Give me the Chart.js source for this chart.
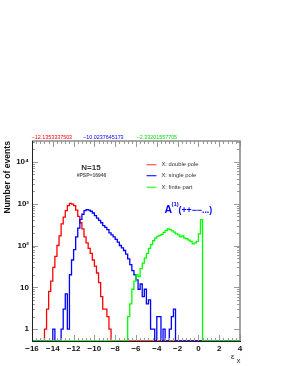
<!DOCTYPE html>
<html>
<head>
<meta charset="utf-8">
<script src="https://cdn.jsdelivr.net/npm/chart.js@4.4.1/dist/chart.umd.min.js"></script>
<style>
  html, body { margin: 0; padding: 0; background: #fff; }
  #wrap { width: 283px; height: 366px; }
</style>
</head>
<body>
<div id="wrap"><canvas id="chart" width="283" height="366"></canvas></div>
<script>
// histogram binning (0.2 wide bins from -16 to 4)
const binStart = -16;
const binWidth = 0.2;

// X: double pole, first bin -14.8
const redStart = -14.8;
const redValues = [1, 3, 8, 14, 30, 55, 100, 170, 330, 480, 680, 900, 1020, 980, 900, 700, 500, 350,
    250, 160, 115, 85, 65, 45, 32, 22, 13, 6, 3, 3, 2, 1];

// X: single pole, first bin -14.0
const blueStart = -14.0;
const blueValues = [1, 0, 0, 0, 1, 3, 7, 1, 20, 45, 80, 160, 260, 420, 560, 680, 720, 700, 660, 600,
    520, 450, 400, 350, 300, 270, 240, 200, 180, 160, 140, 120, 100, 88, 76, 62, 48, 35, 25, 20,
    15, 9, 12, 6, 9, 4, 5, 1, 1, 0, 2, 2, 0, 1, 0, 0, 1, 2, 3];

// X: finite part, first bin -6.8
const greenStart = -6.8;
const greenValues = [2, 4, 9, 14, 20, 18, 28, 38, 50, 65, 85, 105, 130, 150, 165, 175, 185, 205, 230,
    250, 240, 225, 210, 190, 180, 160, 170, 150, 145, 135, 125, 110, 115, 125, 190, 415];

const xTicks = [-16, -14, -12, -10, -8, -6, -4, -2, 0, 2, 4];
const yTicks = [1, 10, 100, 1000, 10000];
const yTickLabels = ['1', '10', '10\u00b2', '10\u00b3', '10\u2074'];
const topLabels = ['\u221212.1353337503', '\u221210.0237645173', '\u22122.33201557705'];
const legendLabels = ['X: double pole', 'X: single pole', 'X: finite part'];

const X_MIN = -16, X_MAX = 4;
const Y_MIN = 0.52, Y_MAX = 31600;
const FONT = '"Liberation Sans", Arial, sans-serif';

// turn a histogram into step points on the full range
function histPoints(start, values) {
    const nBins = Math.round((X_MAX - X_MIN) / binWidth);
    const offset = Math.round((start - binStart) / binWidth);
    const pts = [];
    for (let i = 0; i < nBins; i++) {
        const v = values[i - offset] || 0;
        pts.push({ x: binStart + i * binWidth, y: v > 0 ? v : Y_MIN });
    }
    pts.push({ x: X_MAX, y: Y_MIN });
    return pts;
}

const framePlugin = {
    id: 'frame',
    afterDatasetsDraw(chart) {
        const { ctx, chartArea: a, scales } = chart;
        const xs = scales.x, ys = scales.y;
        ctx.save();
        // ticks
        ctx.strokeStyle = '#9a9a9a';
        ctx.lineWidth = 1;
        ctx.beginPath();
        for (let v = X_MIN; v <= X_MAX + 1e-6; v += 0.4) {
            const px = Math.round(xs.getPixelForValue(v)) + 0.5;
            const major = Math.abs(v / 2 - Math.round(v / 2)) < 1e-6;
            const len = major ? 6 : 3;
            ctx.moveTo(px, a.bottom); ctx.lineTo(px, a.bottom - len);
            ctx.moveTo(px, a.top); ctx.lineTo(px, a.top + len);
        }
        for (let d = 1; d <= 10000; d *= 10) {
            for (let m = 1; m <= 9; m++) {
                const v = d * m;
                if (v < Y_MIN || v > Y_MAX) continue;
                const py = Math.round(ys.getPixelForValue(v)) + 0.5;
                const len = m === 1 ? 6 : 3;
                ctx.moveTo(a.left, py); ctx.lineTo(a.left + len, py);
                ctx.moveTo(a.right, py); ctx.lineTo(a.right - len, py);
            }
        }
        ctx.stroke();
        // frame
        ctx.strokeStyle = '#8c8c8c';
        ctx.lineWidth = 1.6;
        ctx.beginPath();
        ctx.moveTo(a.left, a.top); ctx.lineTo(a.right, a.top); ctx.lineTo(a.right, a.bottom);
        ctx.stroke();
        ctx.strokeStyle = '#222';
        ctx.lineWidth = 1;
        ctx.beginPath();
        ctx.moveTo(a.left + 0.5, a.top); ctx.lineTo(a.left + 0.5, a.bottom);
        ctx.stroke();
        ctx.restore();
    },
    afterDraw(chart) {
        const { ctx } = chart;
        ctx.save();
        ctx.textBaseline = 'middle';

        // values over the frame
        ctx.font = '5.4px ' + FONT;
        ctx.textAlign = 'left';
        ctx.fillStyle = '#ff0000';
        ctx.fillText(topLabels[0], 31.5, 137.5);
        ctx.fillStyle = '#0000ff';
        ctx.fillText(topLabels[1], 83, 137.5);
        ctx.fillStyle = '#00dd00';
        ctx.fillText(topLabels[2], 136.5, 137.5);

        // y axis title
        ctx.save();
        ctx.translate(8, 141);
        ctx.rotate(-Math.PI / 2);
        ctx.font = 'bold 8.6px ' + FONT;
        ctx.fillStyle = '#111';
        ctx.textAlign = 'right';
        ctx.fillText('Number of events', 0, 0);
        ctx.restore();

        // x axis title
        ctx.fillStyle = '#111';
        ctx.textAlign = 'left';
        ctx.font = '8px ' + FONT;
        ctx.fillText('\u03b5', 231, 357);
        ctx.font = '6px ' + FONT;
        ctx.fillText('X', 236.5, 361);

        // N and PSP info
        ctx.textAlign = 'center';
        ctx.fillStyle = '#333';
        ctx.font = 'bold 8px ' + FONT;
        ctx.fillText('N=15', 91, 168);
        ctx.font = 'bold 5px ' + FONT;
        ctx.fillStyle = '#555';
        ctx.fillText('#PSP=16946', 91.5, 175.5);

        // legend
        const legColors = ['#ff5555', '#2222ff', '#33ff33'];
        const legY = [164.7, 175.7, 187.3];
        ctx.textAlign = 'left';
        ctx.font = '5.8px ' + FONT;
        for (let i = 0; i < 3; i++) {
            ctx.strokeStyle = legColors[i];
            ctx.lineWidth = 1.2;
            ctx.beginPath();
            ctx.moveTo(146.5, legY[i]); ctx.lineTo(156.5, legY[i]);
            ctx.stroke();
            ctx.fillStyle = '#333';
            ctx.fillText(legendLabels[i], 161.5, legY[i]);
        }

        // amplitude label
        ctx.fillStyle = '#0000ff';
        ctx.textBaseline = 'alphabetic';
        ctx.font = 'bold 10.5px ' + FONT;
        ctx.fillText('A', 164.5, 213);
        ctx.font = 'bold 6px ' + FONT;
        ctx.fillText('(1)', 171.5, 205.5);
        ctx.font = 'bold 8.8px ' + FONT;
        ctx.fillText('(++\u2212\u2212...)', 178.5, 213);
        ctx.restore();
    }
};

new Chart(document.getElementById('chart'), {
    type: 'line',
    data: {
        datasets: [
            { label: legendLabels[0], data: histPoints(redStart, redValues), borderColor: '#ff0000', order: 2 },
            { label: legendLabels[1], data: histPoints(blueStart, blueValues), borderColor: '#0000ff', order: 1 },
            { label: legendLabels[2], data: histPoints(greenStart, greenValues), borderColor: '#00ff00', order: 0 }
        ].map(d => Object.assign(d, {
            stepped: 'before',
            borderWidth: 1.3,
            pointRadius: 0,
            fill: false,
            tension: 0
        }))
    },
    options: {
        responsive: false,
        animation: false,
        events: [],
        layout: { padding: { left: 0, top: 141, right: 43, bottom: 0 } },
        plugins: {
            legend: { display: false },
            tooltip: { enabled: false }
        },
        scales: {
            x: {
                type: 'linear',
                min: X_MIN,
                max: X_MAX,
                afterFit(scale) { scale.height = 25; },
                afterBuildTicks(scale) { scale.ticks = xTicks.map(v => ({ value: v })); },
                grid: { display: false, drawTicks: false },
                border: { display: true, color: '#222', width: 1 },
                ticks: {
                    autoSkip: false,
                    maxRotation: 0,
                    padding: 3,
                    color: '#111',
                    font: { family: FONT, size: 8, weight: 'bold' },
                    callback: v => (v < 0 ? '\u2212' + Math.abs(v) : String(v))
                }
            },
            y: {
                type: 'logarithmic',
                min: Y_MIN,
                max: Y_MAX,
                afterFit(scale) { scale.width = 32; },
                afterBuildTicks(scale) { scale.ticks = yTicks.map(v => ({ value: v })); },
                grid: { display: false, drawTicks: false },
                border: { display: false },
                ticks: {
                    autoSkip: false,
                    padding: 3,
                    color: '#111',
                    font: { family: FONT, size: 8, weight: 'bold' },
                    callback: v => yTickLabels[yTicks.indexOf(v)] ?? ''
                }
            }
        }
    },
    plugins: [framePlugin]
});
</script>
</body>
</html>
